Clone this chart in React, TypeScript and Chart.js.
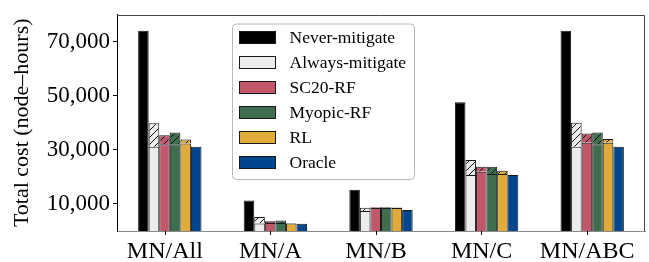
import React, { useEffect, useRef } from 'react';
import { Chart, registerables } from 'chart.js';

Chart.register(...registerables);

// ---------- data ----------
const CATEGORIES = ['MN/All', 'MN/A', 'MN/B', 'MN/C', 'MN/ABC'];
const SERIES_LABELS = ['Never-mitigate', 'Always-mitigate', 'SC20-RF', 'Myopic-RF', 'RL', 'Oracle'];

const NEVER = [74000, 11300, 15200, 47600, 74000];
const ALWAYS_BASE = [31100, 2800, 7400, 20700, 31100];
const ALWAYS_TOTAL = [39800, 5200, 8600, 26200, 40000];
const SC20_BASE = [32100, 3000, 8500, 21900, 32600];
const SC20_TOTAL = [35400, 3600, 8800, 23700, 36000];
const MYOPIC_BASE = [32100, 3000, 8500, 21100, 32100];
const MYOPIC_TOTAL = [36400, 3900, 8750, 23700, 36400];
const RL_BASE = [32300, 2800, 8500, 21100, 32600];
const RL_TOTAL = [33800, 3000, 8700, 22300, 34000];
const ORACLE = [31100, 2700, 7800, 20700, 31100];

const Y_TICKS = [10000, 30000, 50000, 70000];
const Y_MIN = 0;
const Y_MAX = 80000;

const BASES = [NEVER, ALWAYS_BASE, SC20_BASE, MYOPIC_BASE, RL_BASE, ORACLE];
const TOTALS = [null, ALWAYS_TOTAL, SC20_TOTAL, MYOPIC_TOTAL, RL_TOTAL, null];

// ---------- style ----------
const COLORS = ['#000000', '#ececec', '#c0586a', '#3f6e4f', '#e0ab38', '#00468e'];
const EDGE = '#1a1a1a';
const FONT = 'Liberation Serif';

function makeHatch(color: string): CanvasPattern | string {
  const c = document.createElement('canvas');
  const s = 7;
  c.width = s;
  c.height = s;
  const g = c.getContext('2d');
  if (!g) return color;
  g.fillStyle = color;
  g.fillRect(0, 0, s, s);
  g.strokeStyle = '#111';
  g.lineWidth = 1;
  g.beginPath();
  g.moveTo(0, s);
  g.lineTo(s, 0);
  g.moveTo(-1, 1);
  g.lineTo(1, -1);
  g.moveTo(s - 1, s + 1);
  g.lineTo(s + 1, s - 1);
  g.stroke();
  return g.createPattern(c, 'repeat') || color;
}

const framePlugin = {
  id: 'frame',
  afterDatasetsDraw(chart: any) {
    const { ctx, chartArea: a } = chart;
    ctx.save();
    // top & right spines
    ctx.strokeStyle = '#444';
    ctx.lineWidth = 1;
    const t = Math.round(a.top) + 0.5;
    const r = Math.round(a.right) - 0.5;
    ctx.beginPath();
    ctx.moveTo(a.left, t);
    ctx.lineTo(r, t);
    ctx.lineTo(r, a.bottom);
    ctx.stroke();

    // x tick marks at the centre of the third bar of each group
    const refIdx = chart.data.datasets.findIndex((d: any) => d.label === SERIES_LABELS[2]);
    const meta = chart.getDatasetMeta(refIdx);
    ctx.strokeStyle = '#000';
    ctx.beginPath();
    meta.data.forEach((el: any) => {
      const x = Math.round(el.x) + 0.5;
      ctx.moveTo(x, a.bottom);
      ctx.lineTo(x, a.bottom + 4);
    });
    ctx.stroke();

    // legend
    const bx = a.left + 115.5;
    const by = a.top + 9.5;
    const bw = 182;
    const bh = 155.5;
    ctx.beginPath();
    ctx.roundRect(bx, by, bw, bh, 4);
    ctx.fillStyle = 'rgba(255,255,255,0.85)';
    ctx.fill();
    ctx.strokeStyle = '#b8b8b8';
    ctx.stroke();

    const items = chart.data.datasets.filter((d: any) => !d.hatch);
    ctx.font = `17.5px "${FONT}"`;
    ctx.textBaseline = 'middle';
    ctx.textAlign = 'left';
    items.forEach((d: any, i: number) => {
      const cy = by + 13.5 + i * 25;
      ctx.fillStyle = d.backgroundColor;
      ctx.fillRect(bx + 7, cy - 6, 36, 12);
      ctx.strokeStyle = EDGE;
      ctx.strokeRect(bx + 7, cy - 6, 36, 12);
      ctx.fillStyle = '#000';
      ctx.fillText(d.label, bx + 57, cy + 1);
    });
    ctx.restore();
  },
};

export default function App() {
  const ref = useRef<HTMLCanvasElement | null>(null);

  useEffect(() => {
    if (!ref.current) return;
    const datasets: any[] = [];
    SERIES_LABELS.forEach((label, k) => {
      const base = BASES[k];
      const total = TOTALS[k];
      datasets.push({
        label,
        data: base,
        backgroundColor: COLORS[k],
        borderColor: EDGE,
        borderWidth: 1,
        stack: 's' + k,
        categoryPercentage: 0.6,
        barPercentage: 1.0,
        hatch: false,
      });
      if (total) {
        datasets.push({
          label: label + ' (hatched)',
          data: total.map((v, i) => v - base[i]),
          backgroundColor: makeHatch(COLORS[k]),
          borderColor: EDGE,
          borderWidth: 1,
          stack: 's' + k,
          categoryPercentage: 0.6,
          barPercentage: 1.0,
          hatch: true,
        });
      }
    });

    const chart = new Chart(ref.current, {
      type: 'bar',
      data: { labels: CATEGORIES, datasets },
      options: {
        animation: false,
        responsive: false,
        maintainAspectRatio: false,
        layout: { padding: { top: 13, right: 4, left: 0, bottom: 0 } },
        plugins: { legend: { display: false }, tooltip: { enabled: false } },
        scales: {
          x: {
            stacked: true,
            offset: true,
            grid: { display: false },
            border: { display: true, color: '#8a8a8a', width: 1 },
            ticks: {
              font: { family: FONT, size: 24 },
              color: '#000',
              labelOffset: -5,
              padding: -2,
              maxRotation: 0,
              autoSkip: false,
            },
            afterFit: (s: any) => {
              s.height = 31;
            },
          },
          y: {
            stacked: true,
            min: Y_MIN,
            max: Y_MAX,
            afterBuildTicks: (s: any) => {
              s.ticks = Y_TICKS.map((v) => ({ value: v }));
            },
            ticks: {
              callback: (v: any) => Number(v).toLocaleString('en-US'),
              font: { family: FONT, size: 23, lineHeight: 1.0 },
              color: '#000',
              padding: 3,
            },
            grid: { drawOnChartArea: false, drawTicks: true, tickLength: 4, color: '#000' },
            border: { display: true, color: '#000', width: 1 },
            title: {
              display: true,
              text: 'Total cost (node–hours)',
              font: { family: FONT, size: 22 },
              color: '#000',
              padding: { top: 9, bottom: 0 },
            },
            afterFit: (s: any) => {
              s.width = 117;
            },
          },
        },
      } as any,
      plugins: [framePlugin],
    });
    return () => chart.destroy();
  }, []);

  return (
    <div style={{ position: 'absolute', left: 0, top: 0, width: 649, height: 262, background: '#fff' }}>
      <canvas ref={ref} width={649} height={262} style={{ display: 'block' }} />
    </div>
  );
}
